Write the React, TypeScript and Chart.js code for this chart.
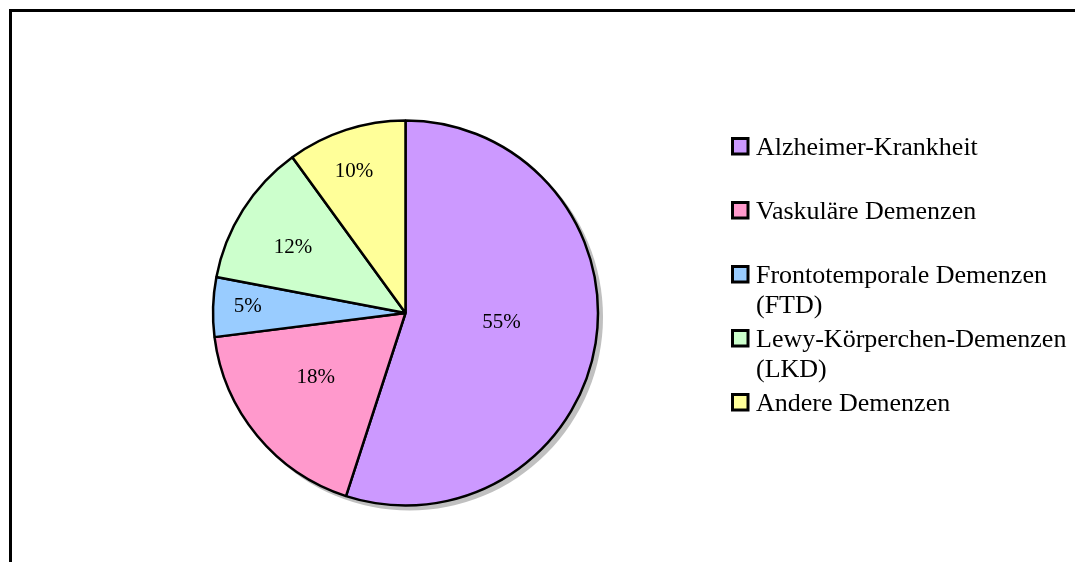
import React, { useEffect, useRef } from "react";
import { Chart, registerables } from "chart.js";

Chart.register(...registerables);

// ---- data ----
const categories = [
  "Alzheimer-Krankheit",
  "Vaskuläre Demenzen",
  "Frontotemporale Demenzen (FTD)",
  "Lewy-Körperchen-Demenzen (LKD)",
  "Andere Demenzen",
];
const legendLines = [
  ["Alzheimer-Krankheit"],
  ["Vaskuläre Demenzen"],
  ["Frontotemporale Demenzen", "(FTD)"],
  ["Lewy-Körperchen-Demenzen", "(LKD)"],
  ["Andere Demenzen"],
];
const shares = [55, 18, 5, 12, 10];
const colors = ["#CC99FF", "#FF99CC", "#99CCFF", "#CCFFCC", "#FFFF99"];

// ---- label placement style (fraction along slice angle / radius) ----
const labelAngleFrac = [0.48, 0.57, 0.56, 0.46, 0.45];
const labelRadiusFrac = [0.5, 0.57, 0.82, 0.68, 0.79];

const SERIF = "'Liberation Serif', 'Times New Roman', serif";

const framePlugin = {
  id: "frame",
  beforeDraw(chart: any) {
    const ctx = chart.ctx;
    ctx.save();
    ctx.fillStyle = "#ffffff";
    ctx.fillRect(0, 0, chart.width, chart.height);
    ctx.strokeStyle = "#000000";
    ctx.lineWidth = 3;
    ctx.beginPath();
    ctx.moveTo(10.5, chart.height + 5);
    ctx.lineTo(10.5, 10.5);
    ctx.lineTo(chart.width + 5, 10.5);
    ctx.stroke();
    ctx.restore();
  },
};

const shadowPlugin = {
  id: "pieShadow",
  beforeDatasetsDraw(chart: any) {
    const arc = chart.getDatasetMeta(0).data[0];
    if (!arc) return;
    const { x, y, outerRadius } = arc.getProps(["x", "y", "outerRadius"], true);
    const ctx = chart.ctx;
    ctx.save();
    ctx.fillStyle = "#C0C0C0";
    ctx.beginPath();
    ctx.arc(x + 4, y + 4, outerRadius + 1, 0, Math.PI * 2);
    ctx.fill();
    ctx.restore();
  },
};

const labelPlugin = {
  id: "sliceLabels",
  afterDatasetsDraw(chart: any) {
    const ctx = chart.ctx;
    const meta = chart.getDatasetMeta(0);
    ctx.save();
    ctx.font = `21px ${SERIF}`;
    ctx.fillStyle = "#000000";
    ctx.textAlign = "center";
    ctx.textBaseline = "alphabetic";
    meta.data.forEach((arc: any, i: number) => {
      const { x, y, startAngle, endAngle, outerRadius } = arc.getProps(
        ["x", "y", "startAngle", "endAngle", "outerRadius"],
        true
      );
      const a = startAngle + (endAngle - startAngle) * labelAngleFrac[i];
      const r = outerRadius * labelRadiusFrac[i];
      const lx = x + Math.cos(a) * r;
      const ly = y + Math.sin(a) * r;
      ctx.fillText(`${shares[i]}%`, lx, ly + 7);
    });
    ctx.restore();
  },
};

const legendPlugin = {
  id: "sideLegend",
  afterDraw(chart: any) {
    const ctx = chart.ctx;
    const markerX = 732.5;
    const box = 15.5;
    const textX = 756;
    const firstBaseline = 155;
    const step = 64;
    const lineH = 30;
    ctx.save();
    ctx.font = `26px ${SERIF}`;
    ctx.textAlign = "left";
    ctx.textBaseline = "alphabetic";
    legendLines.forEach((lines, i) => {
      const base = firstBaseline + i * step;
      ctx.fillStyle = colors[i];
      ctx.fillRect(markerX, base - 16.5, box, box);
      ctx.strokeStyle = "#000000";
      ctx.lineWidth = 3;
      ctx.strokeRect(markerX, base - 16.5, box, box);
      ctx.fillStyle = "#000000";
      lines.forEach((t, j) => ctx.fillText(t, textX, base + j * lineH));
    });
    ctx.restore();
  },
};

export default function App() {
  const ref = useRef<HTMLCanvasElement | null>(null);

  useEffect(() => {
    if (!ref.current) return;
    const chart = new Chart(ref.current, {
      type: "pie",
      data: {
        labels: categories,
        datasets: [
          {
            data: shares,
            backgroundColor: colors,
            borderColor: "#000000",
            borderWidth: 2.5,
          },
        ],
      },
      options: {
        responsive: false,
        animation: false,
        devicePixelRatio: 1,
        layout: {
          padding: { left: 211.75, top: 119.25, right: 475.75, bottom: 55.25 },
        },
        plugins: {
          legend: { display: false },
          tooltip: { enabled: false },
          title: { display: false },
        },
      },
      plugins: [framePlugin, shadowPlugin, labelPlugin, legendPlugin],
    });
    return () => chart.destroy();
  }, []);

  return (
    <div style={{ position: "absolute", left: 0, top: 0, width: 1075, height: 562 }}>
      <canvas ref={ref} width={1075} height={562} />
    </div>
  );
}
